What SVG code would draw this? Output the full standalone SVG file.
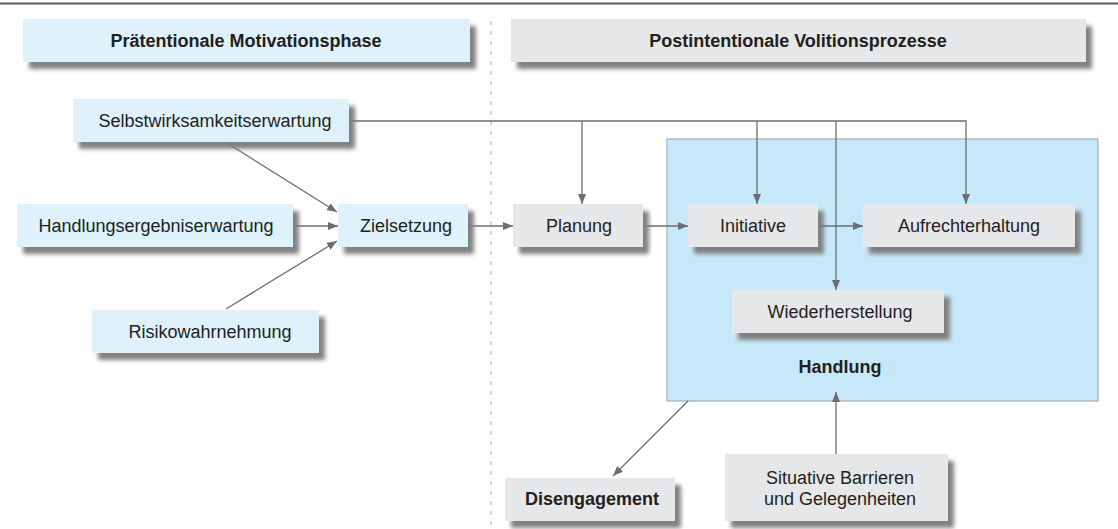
<svg xmlns="http://www.w3.org/2000/svg" width="1118" height="529" viewBox="0 0 1118 529">
  <defs>
    <filter id="drop" x="-10%" y="-20%" width="130%" height="160%">
      <feDropShadow dx="6" dy="7" stdDeviation="2" flood-color="#7c7c7c" flood-opacity="0.95"/>
    </filter>
    <marker id="arr" markerUnits="userSpaceOnUse" markerWidth="11" markerHeight="9" refX="10" refY="4" orient="auto">
      <path d="M0,0 L10,4 L0,8 z" fill="#6d6e71"/>
    </marker>
    <style>
      .txt { font-family: "Liberation Sans", Arial, sans-serif; font-size: 18px; fill: #231f20; text-anchor: middle; }
      .bold { font-weight: bold; }
      .blue { fill: #dff1fb; filter: url(#drop); }
      .grey { fill: #e6e7e8; filter: url(#drop); }
      .conn { stroke: #6d6e71; stroke-width: 1.3; fill: none; }
      .arrow { marker-end: url(#arr); }
    </style>
  </defs>

  <rect width="1118" height="529" fill="#ffffff"/>

  <!-- top rule and phase separator -->
  <line x1="0" y1="3.5" x2="1118" y2="3.5" stroke="#5a5a5a" stroke-width="2.2"/>
  <line x1="491" y1="21" x2="491" y2="529" stroke="#a7a9ac" stroke-width="1" stroke-dasharray="4 6"/>

  <!-- phase headers -->
  <g id="header-motivation">
    <rect class="blue" x="23" y="19" width="447" height="43"/>
    <text class="txt bold" x="246" y="47">Prätentionale Motivationsphase</text>
  </g>
  <g id="header-volition">
    <rect class="grey" x="511" y="19" width="575" height="43"/>
    <text class="txt bold" x="798" y="47">Postintentionale Volitionsprozesse</text>
  </g>

  <!-- action container -->
  <g id="handlung">
    <rect x="667" y="139" width="431" height="262" fill="#c7e8f8" stroke="#9fafba" stroke-width="1.2"/>
    <text class="txt bold" x="840" y="373">Handlung</text>
  </g>

  <!-- connectors -->
  <g id="connectors">
    <polyline class="conn arrow" points="349,121 966,121 966,204"/>
    <line class="conn arrow" x1="582" y1="121" x2="582" y2="204"/>
    <line class="conn arrow" x1="757" y1="121" x2="757" y2="204"/>
    <line class="conn arrow" x1="836" y1="121" x2="836" y2="290"/>
    <line class="conn arrow" x1="227" y1="143" x2="337" y2="212"/>
    <line class="conn arrow" x1="293" y1="226" x2="338" y2="226"/>
    <line class="conn arrow" x1="226" y1="309" x2="337" y2="241"/>
    <line class="conn arrow" x1="468" y1="226" x2="513" y2="226"/>
    <line class="conn arrow" x1="643" y1="226" x2="688" y2="226"/>
    <line class="conn arrow" x1="818" y1="226" x2="863" y2="226"/>
    <line class="conn arrow" x1="688" y1="401" x2="613" y2="476"/>
    <line class="conn arrow" x1="836" y1="454" x2="836" y2="392"/>
  </g>

  <!-- motivation phase nodes -->
  <g id="selbstwirksamkeit">
    <rect class="blue" x="73" y="99" width="276" height="43"/>
    <text class="txt" x="215" y="127">Selbstwirksamkeitserwartung</text>
  </g>
  <g id="handlungsergebnis">
    <rect class="blue" x="17" y="204" width="276" height="43"/>
    <text class="txt" x="156" y="232">Handlungsergebniserwartung</text>
  </g>
  <g id="risiko">
    <rect class="blue" x="92" y="310" width="227" height="43"/>
    <text class="txt" x="210" y="338">Risikowahrnehmung</text>
  </g>
  <g id="zielsetzung">
    <rect class="blue" x="338" y="204" width="130" height="43"/>
    <text class="txt" x="406" y="232">Zielsetzung</text>
  </g>

  <!-- volition phase nodes -->
  <g id="planung">
    <rect class="grey" x="513" y="204" width="130" height="43"/>
    <text class="txt" x="579" y="232">Planung</text>
  </g>
  <g id="initiative">
    <rect class="grey" x="688" y="204" width="130" height="43"/>
    <text class="txt" x="753" y="232">Initiative</text>
  </g>
  <g id="aufrechterhaltung">
    <rect class="grey" x="863" y="204" width="212" height="43"/>
    <text class="txt" x="969" y="232">Aufrechterhaltung</text>
  </g>
  <g id="wiederherstellung">
    <rect class="grey" x="732" y="290" width="212" height="43"/>
    <text class="txt" x="840" y="318">Wiederherstellung</text>
  </g>
  <g id="disengagement">
    <rect class="grey" x="505" y="478" width="170" height="43"/>
    <text class="txt bold" x="592" y="505">Disengagement</text>
  </g>
  <g id="barrieren">
    <rect class="grey" x="725" y="454" width="223" height="67"/>
    <text class="txt" x="840" y="484">Situative Barrieren</text>
    <text class="txt" x="840" y="505">und Gelegenheiten</text>
  </g>
</svg>
